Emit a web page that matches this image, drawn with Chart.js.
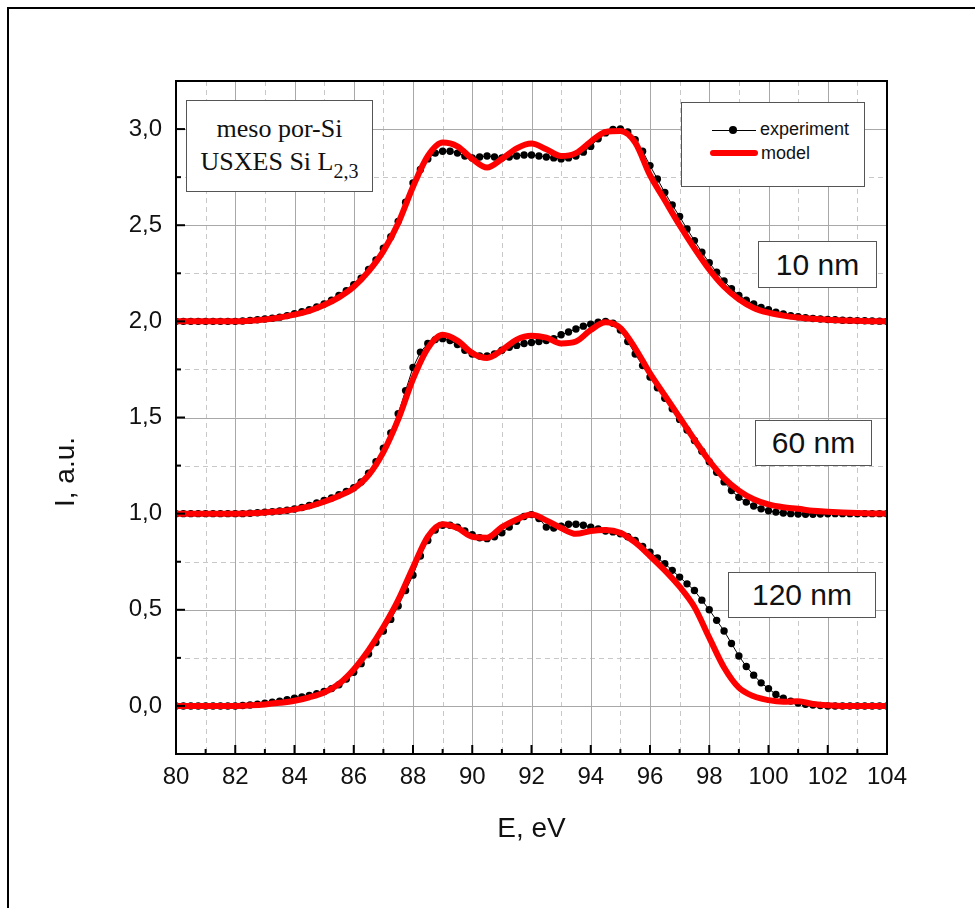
<!doctype html>
<html lang="en">
  <head>
    <meta charset="utf-8">
    <title>USXES Si L2,3 - meso por-Si</title>
    <script src="https://cdn.jsdelivr.net/npm/chart.js"></script>
    <style>
      body { margin: 0; background: #fff; }
      .wrap { position: relative; width: 980px; height: 908px; overflow: hidden; font-family: "Liberation Sans", Arial, sans-serif; }
      .outer { position: absolute; left: 7px; top: 7px; width: 966px; height: 920px; border-top: 2px solid #000; border-left: 2px solid #000; }
      canvas { position: absolute; left: 0; top: 0; }
      .ytitle { position: absolute; left: 65px; top: 472px; font-size: 28px; white-space: nowrap; transform: translate(-50%, -50%) rotate(-90deg); color: #111; }
      .box { position: absolute; background: #fff; border: 1px solid #555; box-sizing: border-box; }
      .info { font-family: "Liberation Serif", "Times New Roman", serif; font-size: 26px; color: #111; }
      .info span { position: absolute; left: 0; right: 0; text-align: center; line-height: 1; }
      .info sub { font-size: 20px; vertical-align: -8px; line-height: 0; }
      .tag { font-size: 30px; color: #111; display: flex; align-items: center; justify-content: center; }
      .leg { font-size: 18px; color: #111; }
      .leg .txt { position: absolute; line-height: 1; }
      .leg .ln { position: absolute; height: 1px; background: #000; }
      .leg .dot { position: absolute; width: 8px; height: 8px; border-radius: 50%; background: #000; }
      .leg .red { position: absolute; height: 6px; border-radius: 3px; background: #ff0000; }
    </style>
  </head>
  <body>
    <div class="wrap">
      <div class="outer"></div>
      <canvas id="spectra" width="980" height="908"></canvas>
      <div class="ytitle">I, a.u.</div>

      <div class="box info" style="left:186px;top:100px;width:187px;height:92px;">
        <span style="top:15px;">meso por-Si</span>
        <span style="top:48px;">USXES Si L<sub>2,3</sub></span>
      </div>

      <div class="box leg" style="left:681px;top:102px;width:184px;height:85px;">
        <div class="ln" style="left:30px;top:27px;width:44px;"></div>
        <div class="dot" style="left:47px;top:23px;"></div>
        <div class="txt" style="left:78px;top:17px;">experiment</div>
        <div class="red" style="left:28px;top:47px;width:48px;"></div>
        <div class="txt" style="left:79px;top:41px;">model</div>
      </div>

      <div class="box tag" style="left:758px;top:241px;width:119px;height:47px;">10 nm</div>
      <div class="box tag" style="left:755px;top:420px;width:117px;height:46px;">60 nm</div>
      <div class="box tag" style="left:728px;top:572px;width:148px;height:46px;">120 nm</div>
    </div>

    <script>
      // photon energy grids (eV)
      const energyExp = [
        80, 80.25, 80.5, 80.75, 81, 81.25, 81.5, 81.75,
        82, 82.25, 82.5, 82.75, 83, 83.25, 83.5, 83.75,
        84, 84.25, 84.5, 84.75, 85, 85.25, 85.5, 85.75,
        86, 86.25, 86.5, 86.75, 87, 87.25, 87.5, 87.75,
        88, 88.25, 88.5, 88.75, 89, 89.25, 89.5, 89.75,
        90, 90.25, 90.5, 90.75, 91, 91.25, 91.5, 91.75,
        92, 92.25, 92.5, 92.75, 93, 93.25, 93.5, 93.75,
        94, 94.25, 94.5, 94.75, 95, 95.25, 95.5, 95.75,
        96, 96.25, 96.5, 96.75, 97, 97.25, 97.5, 97.75,
        98, 98.25, 98.5, 98.75, 99, 99.25, 99.5, 99.75,
        100, 100.25, 100.5, 100.75, 101, 101.25, 101.5, 101.75,
        102, 102.25, 102.5, 102.75, 103, 103.25, 103.5, 103.75,
        104
      ];
      const energyModel = [
        80, 80.5, 81, 81.5, 82, 82.5, 83, 83.5, 84, 84.5, 85, 85.5,
        86, 86.5, 87, 87.5, 88, 88.5, 89, 89.5, 90, 90.5, 91, 91.5,
        92, 92.5, 93, 93.5, 94, 94.5, 95, 95.5, 96, 96.5, 97, 97.5,
        98, 98.5, 99, 99.5, 100, 100.5, 101, 101.5, 102, 102.5, 103, 103.5,
        104
      ];

      // experiment (dots), curves shifted by +2 / +1 / 0
      const exp10 = [
        2, 2, 2, 2, 2, 2, 2, 2,
        2, 2.002, 2.005, 2.008, 2.012, 2.016, 2.022, 2.03,
        2.04, 2.05, 2.06, 2.075, 2.09, 2.11, 2.135, 2.16,
        2.19, 2.225, 2.27, 2.32, 2.38, 2.44, 2.52, 2.62,
        2.72, 2.79, 2.845, 2.875, 2.885, 2.885, 2.875, 2.86,
        2.85, 2.855, 2.86, 2.855, 2.85, 2.855, 2.86, 2.865,
        2.865, 2.86, 2.855, 2.85, 2.845, 2.85, 2.86, 2.88,
        2.91, 2.95, 2.98, 2.998, 3.0, 2.985, 2.945, 2.885,
        2.81, 2.74, 2.67, 2.605, 2.545, 2.48, 2.42, 2.36,
        2.305, 2.255, 2.21, 2.17, 2.135, 2.11, 2.09, 2.072,
        2.06, 2.048, 2.038, 2.03, 2.024, 2.019, 2.015, 2.012,
        2.01, 2.008, 2.006, 2.005, 2.004, 2.003, 2.002, 2.001,
        2
      ];
      const exp60 = [
        1, 1, 1, 1, 1, 1, 1, 1,
        1, 1, 1.002, 1.005, 1.008, 1.01, 1.014, 1.018,
        1.024, 1.032, 1.042, 1.055, 1.068, 1.082, 1.098, 1.115,
        1.135, 1.165, 1.21, 1.27, 1.34, 1.42, 1.52, 1.64,
        1.76, 1.84, 1.885, 1.905, 1.91, 1.9, 1.88, 1.85,
        1.83, 1.82, 1.82, 1.83, 1.85, 1.865, 1.875, 1.885,
        1.89, 1.895, 1.9, 1.91, 1.93, 1.945, 1.96, 1.975,
        1.985, 1.995, 2.0, 1.99, 1.955, 1.895, 1.83, 1.77,
        1.71, 1.655, 1.6, 1.545, 1.49, 1.435, 1.38, 1.325,
        1.27, 1.215, 1.165, 1.12, 1.085, 1.06, 1.04, 1.025,
        1.015, 1.008, 1.003, 1.0, 0.998, 0.997, 0.997, 0.998,
        0.999, 1, 1, 1, 1, 1, 1, 1,
        1
      ];
      const exp120 = [
        0, 0, 0, 0, 0, 0, 0, 0,
        0, 0.002, 0.005, 0.009, 0.014, 0.019, 0.025, 0.032,
        0.04, 0.047, 0.055, 0.064, 0.075, 0.09, 0.11, 0.14,
        0.175, 0.22, 0.27, 0.33, 0.39, 0.45, 0.52, 0.6,
        0.68, 0.78, 0.86, 0.915, 0.94, 0.94, 0.93, 0.91,
        0.89, 0.875, 0.87, 0.88, 0.9, 0.93, 0.96, 0.985,
        0.995, 0.975, 0.93, 0.925, 0.935, 0.945, 0.945, 0.94,
        0.93, 0.92, 0.91, 0.905, 0.895, 0.88, 0.86, 0.83,
        0.8, 0.77, 0.74, 0.705, 0.67, 0.635, 0.6, 0.55,
        0.5, 0.445, 0.39, 0.325, 0.26, 0.205, 0.16, 0.12,
        0.09, 0.06, 0.04, 0.025, 0.015, 0.009, 0.005, 0.002,
        0, 0, 0, 0, 0, 0, 0, 0,
        0
      ];

      // model (red lines)
      const model10 = [
        2, 2, 2, 2, 2, 2.003, 2.01, 2.02, 2.035, 2.055, 2.085, 2.125,
        2.18, 2.26, 2.365, 2.51, 2.7, 2.86, 2.93, 2.91, 2.845, 2.8, 2.845, 2.9,
        2.925, 2.895, 2.86, 2.875, 2.935, 2.985, 2.99, 2.93, 2.76, 2.63, 2.5, 2.38,
        2.27, 2.18, 2.115, 2.07, 2.045, 2.03, 2.02, 2.013, 2.008, 2.005, 2.003, 2.001,
        2
      ];
      const model60 = [
        1, 1, 1, 1, 1, 1.002, 1.006, 1.012, 1.022, 1.038, 1.062, 1.092,
        1.13, 1.2, 1.32, 1.49, 1.7, 1.86, 1.93, 1.9, 1.835, 1.81, 1.85, 1.905,
        1.925, 1.915, 1.885, 1.895, 1.955, 1.995, 1.965, 1.86, 1.73, 1.615, 1.5, 1.385,
        1.275, 1.185, 1.12, 1.075, 1.048, 1.033, 1.025, 1.015, 1.01, 1.006, 1.003, 1.001,
        1
      ];
      const model120 = [
        0, 0, 0, 0, 0, 0.003, 0.008, 0.016, 0.027, 0.045, 0.07, 0.115,
        0.19, 0.29, 0.41, 0.55, 0.72, 0.88, 0.945, 0.925, 0.88, 0.875, 0.93, 0.97,
        0.995, 0.965, 0.925, 0.895, 0.91, 0.915, 0.9, 0.85, 0.78, 0.705, 0.62, 0.515,
        0.355, 0.2, 0.095, 0.05, 0.03, 0.022, 0.024, 0.01, 0.003, 0, 0, 0,
        0
      ];

      // axis ticks
      const xMajor = [80, 82, 84, 86, 88, 90, 92, 94, 96, 98, 100, 102, 104];
      const xMinor = [81, 83, 85, 87, 89, 91, 93, 95, 97, 99, 101, 103];
      const yMajor = [0, 0.5, 1, 1.5, 2, 2.5, 3];
      const yMinor = [0.25, 0.75, 1.25, 1.75, 2.25, 2.75];

      const pts = (xs, ys) => xs.map((x, i) => ({ x: x, y: ys[i] }));

      const modelStyle = {
        showLine: true, borderColor: '#ff0000', borderWidth: 6, pointRadius: 0,
        cubicInterpolationMode: 'monotone', borderCapStyle: 'round', borderJoinStyle: 'round'
      };
      const expStyle = {
        showLine: true, borderColor: '#000', borderWidth: 1, pointRadius: 3.7,
        pointBackgroundColor: '#000', pointBorderWidth: 0
      };

      // grid, frame and inward ticks (Origin style)
      const originFrame = {
        id: 'originFrame',
        beforeDatasetsDraw(chart) {
          const { ctx, chartArea: a, scales: { x, y } } = chart;
          ctx.save();
          ctx.lineWidth = 1;
          ctx.strokeStyle = '#c8c8c8';
          ctx.setLineDash([5, 4]);
          xMinor.forEach(v => { const p = Math.round(x.getPixelForValue(v)) + 0.5; ctx.beginPath(); ctx.moveTo(p, a.top); ctx.lineTo(p, a.bottom); ctx.stroke(); });
          yMinor.forEach(v => { const p = Math.round(y.getPixelForValue(v)) + 0.5; ctx.beginPath(); ctx.moveTo(a.left, p); ctx.lineTo(a.right, p); ctx.stroke(); });
          ctx.setLineDash([]);
          ctx.strokeStyle = '#a8a8a8';
          xMajor.forEach(v => { const p = Math.round(x.getPixelForValue(v)) + 0.5; ctx.beginPath(); ctx.moveTo(p, a.top); ctx.lineTo(p, a.bottom); ctx.stroke(); });
          yMajor.forEach(v => { const p = Math.round(y.getPixelForValue(v)) + 0.5; ctx.beginPath(); ctx.moveTo(a.left, p); ctx.lineTo(a.right, p); ctx.stroke(); });
          ctx.restore();
        },
        afterDatasetsDraw(chart) {
          const { ctx, chartArea: a, scales: { x, y } } = chart;
          ctx.save();
          ctx.strokeStyle = '#000';
          ctx.lineWidth = 2;
          xMajor.forEach(v => { const p = x.getPixelForValue(v); ctx.beginPath(); ctx.moveTo(p, a.bottom); ctx.lineTo(p, a.bottom - 9); ctx.stroke(); });
          xMinor.forEach(v => { const p = x.getPixelForValue(v); ctx.beginPath(); ctx.moveTo(p, a.bottom); ctx.lineTo(p, a.bottom - 5); ctx.stroke(); });
          yMajor.forEach(v => { const p = y.getPixelForValue(v); ctx.beginPath(); ctx.moveTo(a.left, p); ctx.lineTo(a.left + 9, p); ctx.stroke(); });
          yMinor.forEach(v => { const p = y.getPixelForValue(v); ctx.beginPath(); ctx.moveTo(a.left, p); ctx.lineTo(a.left + 5, p); ctx.stroke(); });
          ctx.strokeRect(a.left, a.top, a.right - a.left, a.bottom - a.top);
          ctx.restore();
        }
      };

      new Chart(document.getElementById('spectra'), {
        type: 'scatter',
        data: {
          datasets: [
            { label: 'model 10 nm', data: pts(energyModel, model10), ...modelStyle },
            { label: 'model 60 nm', data: pts(energyModel, model60), ...modelStyle },
            { label: 'model 120 nm', data: pts(energyModel, model120), ...modelStyle },
            { label: 'experiment 10 nm', data: pts(energyExp, exp10), ...expStyle },
            { label: 'experiment 60 nm', data: pts(energyExp, exp60), ...expStyle },
            { label: 'experiment 120 nm', data: pts(energyExp, exp120), ...expStyle }
          ]
        },
        options: {
          responsive: false,
          animation: false,
          layout: { padding: { left: 0, top: 81, right: 93, bottom: 0 } },
          plugins: { legend: { display: false }, tooltip: { enabled: false } },
          scales: {
            x: {
              type: 'linear', min: 80, max: 104,
              afterFit(s) { s.height = 154; },
              afterBuildTicks(s) { s.ticks = xMajor.map(v => ({ value: v })); },
              grid: { display: false, drawTicks: false },
              border: { display: false },
              ticks: { padding: 9, color: '#111', font: { family: 'Liberation Sans', size: 24 } },
              title: { display: true, text: 'E, eV', color: '#111', padding: { bottom: 62 }, font: { family: 'Liberation Sans', size: 28 } }
            },
            y: {
              type: 'linear', min: -0.25, max: 3.25,
              afterFit(s) { s.width = 176; },
              afterBuildTicks(s) { s.ticks = yMajor.map(v => ({ value: v })); },
              grid: { display: false, drawTicks: false },
              border: { display: false },
              ticks: {
                padding: 14, color: '#111', font: { family: 'Liberation Sans', size: 24 },
                callback: v => v.toFixed(1).replace('.', ',')
              }
            }
          }
        },
        plugins: [originFrame]
      });
    </script>
  </body>
</html>
